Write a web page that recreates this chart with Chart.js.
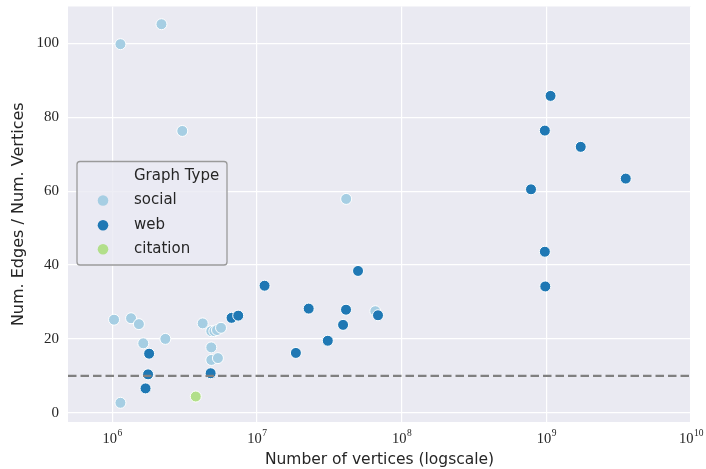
<!DOCTYPE html>
<html>
<head>
<meta charset="utf-8">
<script src="https://cdn.jsdelivr.net/npm/chart.js@4/dist/chart.umd.min.js"></script>
<style>
  html, body { margin: 0; padding: 0; background: #fff; }
  #wrap { width: 706px; height: 469px; }
</style>
</head>
<body>
<div id="wrap"><canvas id="chart"></canvas></div>
<script>
// data
var socialX = [1.14e6, 2.19e6, 3.05e6, 4.14e7, 1.03e6, 1.35e6, 1.53e6, 1.64e6, 2.33e6, 1.14e6,
               4.22e6, 4.84e6, 5.08e6, 5.3e6, 5.65e6, 4.84e6, 4.84e6, 5.38e6, 6.58e7];
var socialY = [99.8, 105.2, 76.3, 57.9, 25.2, 25.6, 24.0, 18.8, 20.0, 2.7,
               24.2, 22.1, 22.1, 22.4, 23.0, 17.7, 14.3, 14.8, 27.5];

var webX = [1.8e6, 1.77e6, 1.70e6, 4.79e6, 6.68e6, 7.43e6, 1.13e7, 2.28e7, 4.13e7, 3.94e7,
            3.09e7, 1.86e7, 6.87e7, 5.0e7, 1.07e9, 9.77e8, 1.73e9, 3.54e9, 7.84e8, 9.77e8, 9.84e8];
var webY = [16.0, 10.4, 6.6, 10.7, 25.7, 26.3, 34.4, 28.2, 27.9, 23.8,
            19.5, 16.2, 26.4, 38.4, 85.8, 76.4, 72.0, 63.4, 60.5, 43.6, 34.2];

var citationX = [3.78e6];
var citationY = [4.4];

var xTicks = [1e6, 1e7, 1e8, 1e9, 1e10];
var xTickExp = ['6', '7', '8', '9', '10'];
var yTicks = [0, 20, 40, 60, 80, 100];
var threshold = 10;

var xMin = 4.95e5, xMax = 1e10;

function pts(xs, ys) {
  return xs.map(function (x, i) { return {x: x, y: ys[i]}; });
}

var bgPlugin = {
  id: 'bg',
  beforeDraw: function (chart) {
    var a = chart.chartArea, ctx = chart.ctx;
    ctx.save();
    ctx.fillStyle = '#eaeaf2';
    ctx.fillRect(a.left, a.top, a.right - a.left, a.bottom - a.top);
    ctx.restore();
  }
};

// 10^n labels with a raised exponent, placed by the x scale
var powerLabels = {
  id: 'powerLabels',
  afterDraw: function (chart) {
    var ctx = chart.ctx, sx = chart.scales.x;
    ctx.save();
    ctx.fillStyle = '#262626';
    ctx.textBaseline = 'alphabetic';
    ctx.textAlign = 'left';
    xTicks.forEach(function (v, i) {
      var px = sx.getPixelForValue(v);
      ctx.font = '14.5px "Liberation Serif"';
      var wb = ctx.measureText('10').width;
      ctx.font = '9.5px "Liberation Serif"';
      var we = ctx.measureText(xTickExp[i]).width;
      var x0 = px - (wb + we) / 2;
      var base = sx.top + 21;
      ctx.font = '14.5px "Liberation Serif"';
      ctx.fillText('10', x0, base);
      ctx.font = '9.5px "Liberation Serif"';
      ctx.fillText(xTickExp[i], x0 + wb + 0.5, base - 7);
    });
    ctx.restore();
  }
};

// legend box like seaborn's, inside the axes
var legendPlugin = {
  id: 'boxLegend',
  afterDatasetsDraw: function (chart) {
    var ctx = chart.ctx;
    var x0 = 77, y0 = 161.5, w = 150, h = 103.5;
    ctx.save();
    ctx.fillStyle = 'rgba(234,234,242,0.8)';
    ctx.strokeStyle = '#9a9a9a';
    ctx.lineWidth = 1.3;
    ctx.beginPath();
    ctx.roundRect(x0, y0, w, h, 3);
    ctx.fill();
    ctx.stroke();
    ctx.font = '15px "DejaVu Sans"';
    ctx.fillStyle = '#262626';
    ctx.textBaseline = 'middle';
    ctx.fillText('Graph Type', 134, 176);
    var rows = [200.5, 225.3, 249.3];
    chart.data.datasets.forEach(function (ds) {
      if (ds.legendRow === undefined) return;
      var y = rows[ds.legendRow];
      ctx.beginPath();
      ctx.arc(103, y, 5.3, 0, Math.PI * 2);
      ctx.fillStyle = ds.backgroundColor;
      ctx.fill();
      ctx.fillStyle = '#262626';
      ctx.fillText(ds.label, 134, y);
    });
    ctx.restore();
  }
};

new Chart(document.getElementById('chart'), {
  type: 'scatter',
  data: {
    datasets: [
      {
        type: 'line',
        label: 'threshold',
        data: [{x: xMin, y: threshold}, {x: xMax, y: threshold}],
        borderColor: '#808080',
        borderWidth: 2.3,
        borderDash: [8.5, 4],
        pointRadius: 0,
        order: 0
      },
      {
        label: 'citation', legendRow: 2,
        data: pts(citationX, citationY),
        backgroundColor: '#b2df8a', borderColor: '#ffffff', borderWidth: 1,
        pointRadius: 5.5, order: 1
      },
      {
        label: 'web', legendRow: 1,
        data: pts(webX, webY),
        backgroundColor: '#1f78b4', borderColor: '#ffffff', borderWidth: 1,
        pointRadius: 5.5, order: 2
      },
      {
        label: 'social', legendRow: 0,
        data: pts(socialX, socialY),
        backgroundColor: '#a6cee3', borderColor: '#ffffff', borderWidth: 1,
        pointRadius: 5.5, order: 3
      }
    ]
  },
  options: {
    responsive: true,
    maintainAspectRatio: false,
    animation: false,
    layout: { padding: { top: 5, right: 15, left: 0, bottom: 0 } },
    plugins: {
      legend: { display: false },
      tooltip: { enabled: false }
    },
    scales: {
      x: {
        type: 'logarithmic',
        min: xMin,
        max: xMax,
        afterBuildTicks: function (s) { s.ticks = xTicks.map(function (v) { return {value: v}; }); },
        afterFit: function (s) {
          s.height = 47;
          s.paddingLeft = 0; s.paddingRight = 0;
        },
        grid: { color: '#ffffff', lineWidth: 1.2, drawTicks: false },
        border: { display: false },
        ticks: { display: false },
        title: {
          display: true,
          text: 'Number of vertices (logscale)',
          color: '#262626',
          font: { family: '"DejaVu Sans"', size: 15.5 },
          padding: { top: 0, bottom: 0 }
        }
      },
      y: {
        min: -2.5,
        max: 110,
        afterBuildTicks: function (s) { s.ticks = yTicks.map(function (v) { return {value: v}; }); },
        afterFit: function (s) {
          s.width = 68;
          s.paddingTop = 0; s.paddingBottom = 0;
        },
        grid: { color: '#ffffff', lineWidth: 1.2, drawTicks: false },
        border: { display: false },
        ticks: {
          padding: 9,
          color: '#262626',
          font: { family: '"Liberation Serif"', size: 15 }
        },
        title: {
          display: true,
          text: 'Num. Edges / Num. Vertices',
          color: '#262626',
          font: { family: '"DejaVu Sans"', size: 16 },
          padding: { top: 9, bottom: 0 }
        }
      }
    }
  },
  plugins: [bgPlugin, powerLabels, legendPlugin]
});
</script>
</body>
</html>
